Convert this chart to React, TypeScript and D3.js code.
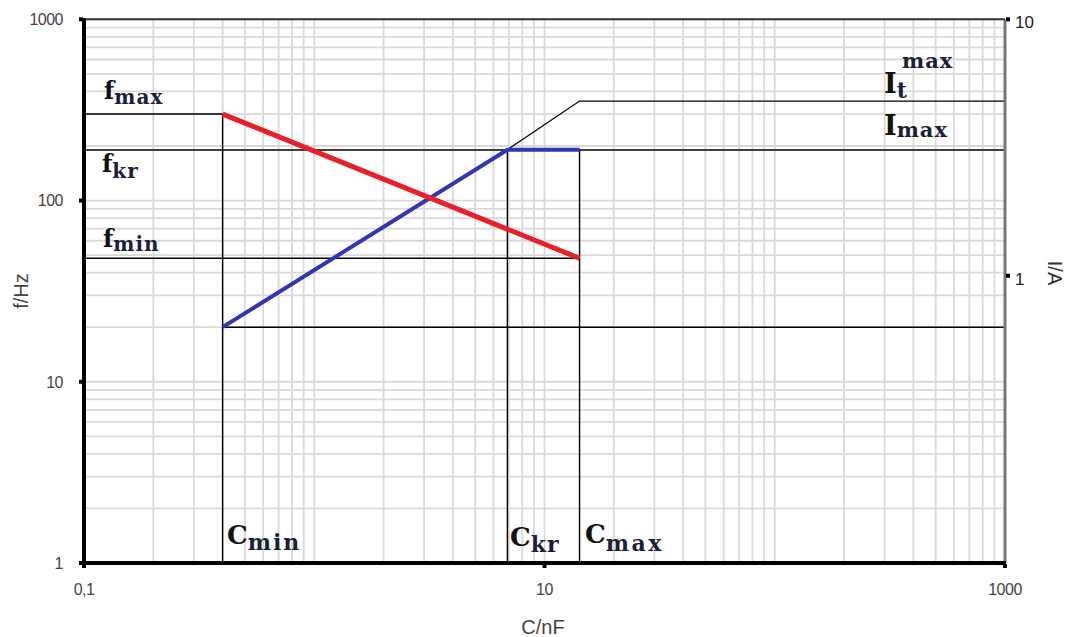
import React from "react";
import * as d3 from "d3";

// axis domains
const cDomain = [0.1, 1000]; // C/nF
const fDomain = [1, 1000]; // f/Hz (left)
const iDomain = [0.0758, 10]; // I/A (right)

const cTickValues = [0.1, 10, 1000];
const cTickLabels = ["0,1", "10", "1000"];
const fTickValues = [1, 10, 100, 1000];
const fTickLabels = ["1", "10", "100", "1000"];
const iTickValues = [1, 10];
const iTickLabels = ["1", "10"];

// characteristic values
const Cmin = 0.4;
const Ckr = 6.9;
const Cmax = 14.2;
const fmax = 300;
const fkr = 190;
const fmin = 48;
const Imin = 0.63;
const Imax = 3.1;
const ItMax = 4.8;

// curves
const freqCurve = [
  { c: 0.4, v: 300 },
  { c: 14.2, v: 48 },
];
const currentCurve = [
  { c: 0.4, v: 0.63 },
  { c: 6.9, v: 3.1 },
  { c: 14.2, v: 3.1 },
];
const itCurve = [
  { c: 6.9, v: 3.1 },
  { c: 14.2, v: 4.8 },
  { c: 1000, v: 4.8 },
];

const W = 1067;
const H = 637;
const left = 84;
const right = 1005;
const top = 19.3;
const bottom = 563;

const serif = "'DejaVu Serif', serif";
const sans = "'Liberation Sans', Arial, sans-serif";
const mainInk = "#111";
const subInk = "#1a1f3a";

const App = () => {
  const x = d3.scaleLog().domain(cDomain).range([left, right]);
  const yF = d3.scaleLog().domain(fDomain).range([bottom, top]);
  const yI = d3.scaleLog().domain(iDomain).range([bottom, top]);

  const xGrid = x.ticks();
  const yGrid = yF.ticks();

  const lineF = d3
    .line<{ c: number; v: number }>()
    .x((d) => x(d.c))
    .y((d) => yF(d.v));
  const lineI = d3
    .line<{ c: number; v: number }>()
    .x((d) => x(d.c))
    .y((d) => yI(d.v));

  const ref = (x1: number, y1: number, x2: number, y2: number, key: string) => (
    <line key={key} x1={x1} y1={y1} x2={x2} y2={y2} stroke="#000" strokeWidth={1.4} />
  );

  return (
    <svg
      width={W}
      height={H}
      style={{ position: "absolute", left: 0, top: 0, background: "#fff" }}
    >
      {/* grid */}
      <g stroke="#d9d9d9" strokeWidth={1.8}>
        {xGrid.map((t) => (
          <line key={"gx" + t} x1={x(t)} x2={x(t)} y1={top} y2={bottom} />
        ))}
        {yGrid.map((t) => (
          <line key={"gy" + t} x1={left} x2={right} y1={yF(t)} y2={yF(t)} />
        ))}
      </g>

      {/* reference lines */}
      {ref(left, yF(fmax), x(Cmin), yF(fmax), "fmax")}
      {ref(left, yF(fkr), right, yF(fkr), "fkr")}
      {ref(left, yF(fmin), x(Cmax), yF(fmin), "fmin")}
      {ref(x(Cmin), yI(Imin), right, yI(Imin), "imin")}
      {ref(x(Cmin), yF(fmax), x(Cmin), bottom, "cmin")}
      {ref(x(Ckr), yI(Imax), x(Ckr), bottom, "ckr")}
      {ref(x(Cmax), yI(Imax), x(Cmax), bottom, "cmax")}

      <path d={lineI(itCurve) || ""} fill="none" stroke="#000" strokeWidth={1.3} />
      <path d={lineI(currentCurve) || ""} fill="none" stroke="#3336b4" strokeWidth={4} />
      <path d={lineF(freqCurve) || ""} fill="none" stroke="#e8202a" strokeWidth={5} />

      {/* frame */}
      <line x1={left} x2={right} y1={top} y2={top} stroke="#333" strokeWidth={2} />
      <line x1={right} x2={right} y1={top} y2={bottom} stroke="#777" strokeWidth={3} />
      <line x1={left} x2={left} y1={top - 1} y2={bottom + 2} stroke="#000" strokeWidth={4} />
      <line x1={left - 2} x2={right + 1} y1={bottom} y2={bottom} stroke="#000" strokeWidth={4} />

      {/* left axis */}
      {fTickValues.map((t, i) => (
        <g key={"fl" + t}>
          <rect x={left - 5} y={yF(t) - 2} width={4} height={4} fill="#000" />
          <text
            x={63}
            y={yF(t)}
            dy="0.36em"
            textAnchor="end"
            fontFamily={sans}
            fontSize={16}
            letterSpacing={-0.5}
            fill="#444"
          >
            {fTickLabels[i]}
          </text>
        </g>
      ))}

      {/* bottom axis */}
      {cTickValues.map((t, i) => (
        <g key={"cl" + t}>
          <rect x={x(t) - 2} y={bottom + 1} width={4} height={4} fill="#000" />
          <text
            x={x(t)}
            y={595}
            textAnchor="middle"
            fontFamily={sans}
            fontSize={16}
            letterSpacing={-0.5}
            fill="#444"
          >
            {cTickLabels[i]}
          </text>
        </g>
      ))}

      {/* right axis */}
      {iTickValues.map((t, i) => (
        <g key={"il" + t}>
          <rect x={right + 1} y={yI(t) - 2} width={4} height={4} fill="#000" />
          <text
            x={1015}
            y={yI(t) + 3}
            dy="0.36em"
            fontFamily={sans}
            fontSize={17}
            fill="#222"
          >
            {iTickLabels[i]}
          </text>
        </g>
      ))}

      {/* axis titles */}
      <text x={543} y={634} textAnchor="middle" fontFamily={sans} fontSize={20} fill="#444">
        C/nF
      </text>
      <text
        transform="translate(28,291) rotate(-90)"
        textAnchor="middle"
        fontFamily={sans}
        fontSize={20}
        fill="#444"
      >
        f/Hz
      </text>
      <text
        transform="translate(1048,273) rotate(90)"
        textAnchor="middle"
        fontFamily={sans}
        fontSize={20}
        fill="#333"
      >
        I/A
      </text>

      {/* annotations */}
      <g fontFamily={serif} fontWeight="bold" fill={mainInk}>
        <text x={104} y={yF(fmax) - 15} fontSize={24}>
          f
          <tspan dy={5} fontSize={20} letterSpacing={1} fill={subInk}>max</tspan>
        </text>
        <text x={102} y={yF(fkr) + 22} fontSize={24}>
          f
          <tspan dy={6} fontSize={20} letterSpacing={1} fill={subInk}>kr</tspan>
        </text>
        <text x={103} y={yF(fmin) - 11} fontSize={24}>
          f
          <tspan dy={4} fontSize={20} letterSpacing={1} fill={subInk}>min</tspan>
        </text>

        <text x={227} y={544} fontSize={26}>
          C
          <tspan dy={6} fontSize={22} letterSpacing={2} fill={subInk}>min</tspan>
        </text>
        <text x={510} y={546} fontSize={26}>
          C
          <tspan dy={6} fontSize={22} letterSpacing={1} fill={subInk}>kr</tspan>
        </text>
        <text x={585} y={543} fontSize={26}>
          C
          <tspan dy={8} fontSize={22} letterSpacing={2.5} fill={subInk}>max</tspan>
        </text>

        <text x={884} y={yI(ItMax) - 8} fontSize={27}>
          I
          <tspan dy={5} fontSize={22} fill={subInk}>t</tspan>
        </text>
        <text x={902} y={68} fontSize={21} letterSpacing={1} fill={subInk}>
          max
        </text>
        <text x={884} y={yI(Imax) - 15} fontSize={27}>
          I
          <tspan dy={2} fontSize={21} letterSpacing={1} fill={subInk}>max</tspan>
        </text>
      </g>
    </svg>
  );
};

export default App;
